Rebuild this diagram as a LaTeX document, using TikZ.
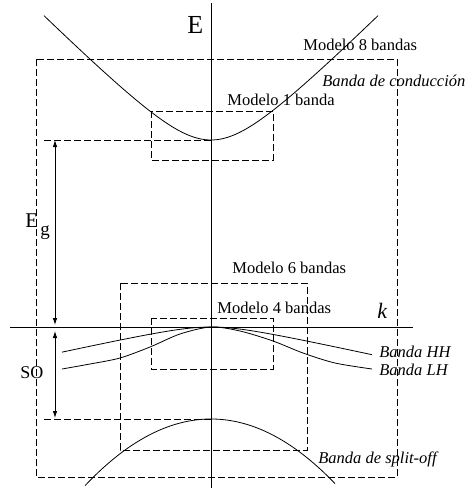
\documentclass[tikz,border=0pt]{standalone}
\usepackage{fontspec}
\setmainfont{Liberation Serif}
\usetikzlibrary{arrows.meta}
\begin{document}
\begin{tikzpicture}[x=1pt,y=-1pt,line width=0.8pt,
  dbox/.style={draw,dash pattern=on 7pt off 3pt},
  dline/.style={draw,dash pattern=on 7pt off 3pt},
  lbl/.style={font=\fontsize{16.5}{18}\selectfont,inner sep=0pt,anchor=base west},
  ilbl/.style={font=\fontsize{16.5}{18}\selectfont\itshape,inner sep=0pt,anchor=base west},
  bigl/.style={inner sep=0pt,anchor=base west},
  dimarrow/.style={{Latex[length=7pt,width=4.5pt]}-{Latex[length=7pt,width=4.5pt]}}]
\useasboundingbox (0,0) rectangle (470,488);

% axes
\coordinate (ytop) at (211,3);
\coordinate (ybot) at (211,488);
\coordinate (xl) at (10,327);
\coordinate (xr) at (413,327);
\draw (ytop) -- (ybot);
\draw (xl) -- (xr);
\node[bigl,font=\fontsize{26}{28}\selectfont] (E) at (187,33) {E};
\node[bigl,font=\fontsize{22}{24}\selectfont\itshape] (k) at (377,318) {k};

% model boxes
\draw[dbox] (36,59) rectangle (397,477);
\draw[dbox] (151,111) rectangle (273,160);
\draw[dbox] (120,283) rectangle (307,450);
\draw[dbox] (151,318) rectangle (273,369);

\node[lbl] (m8) at (303,50) {Modelo 8 bandas};
\node[lbl] (m1) at (227,105) {Modelo 1 banda};
\node[lbl] (m6) at (232,273) {Modelo 6 bandas};
\node[lbl] (m4) at (217,313) {Modelo 4 bandas};

% bands
\draw plot[domain=-167:167,samples=90] ({211+\x},{140-10*(sqrt(25+(\x/10)*(\x/10))-5)});
\draw plot[domain=-149:161,samples=90] ({211+\x},{327+2.2*(sqrt(16+(\x/10)*(\x/10))-4)});
\draw plot[smooth] coordinates {(62,369) (90,364) (120,358) (150,347) (180,334) (211,327) (240,331) (273,341) (303,353) (335,363) (372,369)};
\draw plot[domain=-126:124,samples=90] ({211+\x},{419+0.42*(\x/10)*(\x/10)});

\node[ilbl] (cb) at (322,86) {Banda de conducción};
\node[ilbl] (hh) at (379,357) {Banda HH};
\node[ilbl] (lh) at (379,375) {Banda LH};
\node[ilbl] (so) at (318,463) {Banda de split-off};

% reference levels
\coordinate (cbmin) at (211,140);
\coordinate (cbl) at (44,140);
\coordinate (somax) at (211,419);
\coordinate (sol) at (44,419);
\draw[dline] (cbl) -- (cbmin);
\draw[dline] (sol) -- (somax);

% energy arrows
\coordinate (eg1) at (55,140);
\coordinate (eg2) at (55,325);
\coordinate (so1) at (55,331);
\coordinate (so2) at (55,418);
\draw[dimarrow] (eg1) -- (eg2);
\draw[dimarrow] (so1) -- (so2);
\node[bigl,font=\fontsize{21}{23}\selectfont] (Eg) at (25,227) {E};
\node[bigl,font=\fontsize{19}{21}\selectfont] (g) at (40,235) {g};
\node[bigl,font=\fontsize{18}{20}\selectfont] (SO) at (20,378) {SO};
\end{tikzpicture}
\end{document}
